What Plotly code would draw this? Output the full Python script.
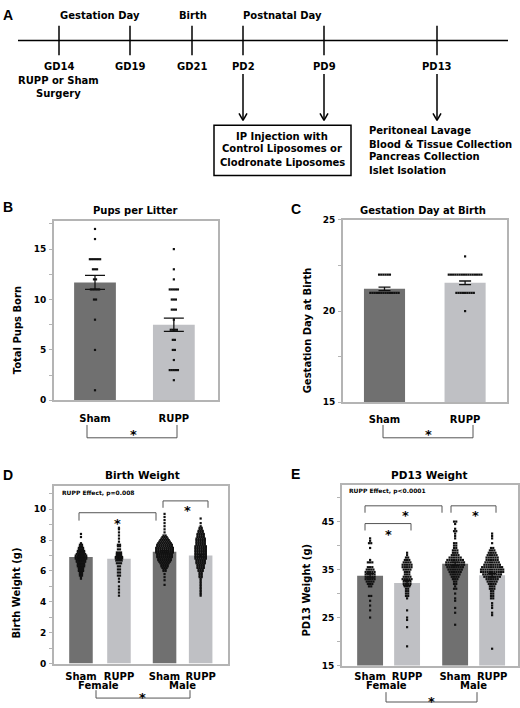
import plotly.graph_objects as go

W, H = 520, 708
FONT = "DejaVu Sans"
DARK = "#707070"
LIGHT = "#bfc0c4"
FRAME = "#b4b4b4"
BRK = "#555555"

# ---------------- data ----------------
# B: pups per litter
pups_labels = ["Sham", "RUPP"]
pups_mean = [11.7, 7.5]
pups_sem = [0.7, 0.65]
pups_sham_vals = [17, 16, 14, 13, 12, 11, 10, 8, 5, 1]
pups_sham_cnts = [1, 1, 6, 3, 2, 5, 2, 1, 1, 1]
pups_rupp_vals = [15, 13, 12, 11, 10, 9, 8, 7, 6, 5, 4, 3, 2]
pups_rupp_cnts = [1, 1, 1, 5, 3, 3, 1, 4, 2, 2, 1, 5, 1]

# C: gestation day at birth
gest_labels = ["Sham", "RUPP"]
gest_mean = [21.22, 21.55]
gest_sem = [0.1, 0.1]
gest_sham_vals = [22, 21]
gest_sham_cnts = [6, 14]
gest_rupp_vals = [23, 22, 21, 20]
gest_rupp_cnts = [1, 16, 9, 1]

# D / E groups
wt_labels = ["Sham", "RUPP", "Sham", "RUPP"]
sex_labels = ["Female", "Male"]

# D: birth weight (g)
bw_mean = [6.9, 6.8, 7.24, 7.0]
bw_sem = [0.1, 0.15, 0.07, 0.08]
bw_sham_f_vals = [8.4, 8.2, 7.8, 7.7, 7.6, 7.5, 7.4, 7.3, 7.2, 7.1, 7.0, 6.9, 6.8,
                  6.7, 6.6, 6.5, 6.4, 6.3, 6.2, 6.1, 6.0, 5.9, 5.8, 5.7, 5.6, 5.5]
bw_sham_f_cnts = [1, 1, 1, 2, 2, 3, 3, 4, 4, 5, 6, 6, 6, 5, 5, 4, 4, 4, 3, 3, 3, 2, 2, 2, 1, 1]
bw_rupp_f_vals = [8.8, 8.7, 8.5, 8.3, 8.1, 7.9, 7.7, 7.6, 7.4, 7.2, 7.1, 7.0, 6.9,
                  6.8, 6.7, 6.5, 6.3, 6.1, 5.9, 5.7, 5.5, 5.3, 5.0, 4.8, 4.6, 4.4]
bw_rupp_f_cnts = [1, 1, 1, 1, 1, 1, 2, 2, 2, 3, 3, 3, 4, 4, 3, 3, 2, 2, 2, 2, 1, 1, 1, 1, 1, 1]
bw_sham_m_vals = [9.7, 9.5, 9.3, 9.1, 8.9, 8.7, 8.5, 8.3, 8.2, 8.1, 8.0, 7.9, 7.8, 7.7,
                  7.6, 7.5, 7.4, 7.3, 7.2, 7.1, 7.0, 6.9, 6.8, 6.7, 6.6, 6.5, 6.4, 6.3,
                  6.2, 6.1, 6.0, 5.8, 5.6, 5.4, 5.1]
bw_sham_m_cnts = [1, 1, 1, 1, 1, 1, 1, 2, 3, 4, 5, 6, 7, 8, 8, 9, 9, 9, 9, 8, 8, 8, 7, 7,
                  6, 5, 4, 4, 3, 2, 2, 1, 1, 1, 1]
bw_rupp_m_vals = [9.4, 9.1, 8.9, 8.8, 8.7, 8.6, 8.5, 8.4, 8.3, 8.2, 8.1, 8.0, 7.9, 7.8,
                  7.7, 7.6, 7.5, 7.4, 7.3, 7.2, 7.1, 7.0, 6.9, 6.8, 6.7, 6.6, 6.5, 6.4,
                  6.3, 6.2, 6.1, 6.0, 5.9, 5.8, 5.7, 5.6, 5.5, 5.4, 5.3, 5.2, 5.1, 5.0,
                  4.9, 4.8, 4.7, 4.6, 4.5, 4.4]
bw_rupp_m_cnts = [1, 1, 1, 2, 2, 3, 3, 4, 4, 4, 5, 5, 5, 5, 5, 6, 6, 6, 6, 6, 6, 6, 6, 6,
                  5, 5, 5, 4, 4, 4, 3, 3, 2, 2, 2, 2, 1, 1, 1, 1, 1, 1, 1, 1, 1, 1, 1, 1]

# E: PD13 weight (g)
pw_mean = [33.7, 32.2, 36.2, 33.8]
pw_sem = [0.45, 0.55, 0.35, 0.35]
pw_sham_f_vals = [41.5, 41.0, 40.5, 39.5, 37.0, 36.5, 35.5, 35.0, 34.5, 34.0, 33.5, 33.0,
                  32.5, 32.0, 31.5, 29.5, 28.5, 27.5, 26.5, 25.0]
pw_sham_f_cnts = [1, 1, 2, 1, 1, 3, 3, 4, 5, 5, 5, 5, 4, 3, 2, 2, 1, 1, 1, 1]
pw_rupp_f_vals = [38.5, 38.0, 37.5, 37.0, 36.5, 36.0, 35.5, 35.0, 34.5, 34.0, 33.5, 33.0,
                  32.5, 32.0, 31.5, 31.0, 30.5, 30.0, 29.5, 29.0, 26.5, 25.0, 24.5, 23.0, 19.0]
pw_rupp_f_cnts = [1, 1, 2, 3, 4, 5, 5, 4, 3, 3, 4, 5, 4, 4, 3, 2, 2, 2, 2, 1, 1, 1, 1, 1, 1]
pw_sham_m_vals = [45.0, 44.5, 43.5, 43.0, 42.5, 42.0, 41.5, 40.5, 40.0, 39.5, 39.0, 38.5,
                  38.0, 37.5, 37.0, 36.5, 36.0, 35.5, 35.0, 34.5, 34.0, 33.5, 33.0, 32.5,
                  32.0, 31.5, 31.0, 30.0, 29.0, 28.5, 27.0, 26.0, 23.5]
pw_sham_m_cnts = [2, 1, 1, 2, 1, 1, 1, 2, 2, 2, 3, 3, 4, 6, 8, 9, 9, 8, 7, 6, 5, 4, 3, 2,
                  2, 1, 2, 1, 1, 1, 1, 1, 1]
pw_rupp_m_vals = [42.5, 42.0, 41.5, 40.5, 39.5, 39.0, 38.5, 38.0, 37.5, 37.0, 36.5, 36.0,
                  35.5, 35.0, 34.5, 34.0, 33.5, 33.0, 32.5, 32.0, 31.5, 31.0, 30.5, 30.0,
                  29.5, 29.0, 28.0, 27.5, 27.0, 26.0, 25.5, 18.5]
pw_rupp_m_cnts = [1, 1, 1, 1, 2, 3, 4, 5, 6, 6, 7, 8, 10, 11, 11, 9, 8, 6, 5, 4, 3, 3, 2, 2,
                  2, 2, 1, 1, 1, 1, 1, 1]

# A: timeline text
timeline_top = ["Gestation Day", "Birth", "Postnatal Day"]
timeline_days = ["GD14", "GD19", "GD21", "PD2", "PD9", "PD13"]
surgery_lines = ["RUPP or Sham", "Surgery"]
injection_lines = ["IP Injection with", "Control Liposomes or", "Clodronate Liposomes"]
collection_lines = ["Peritoneal Lavage", "Blood & Tissue Collection",
                    "Pancreas Collection", "Islet Isolation"]

# ---------------- layout helpers (pixel -> paper) ----------------
def P(x):
    return x / W


def Q(y):
    return 1 - y / H


def swarm(center, vals, cnts, dx):
    xs, ys = [], []
    for v, n in zip(vals, cnts):
        for i in range(n):
            xs.append(center + (i - (n - 1) / 2) * dx)
            ys.append(v)
    return xs, ys


fig = go.Figure()

# slot positions (layout of the bar categories on each axis)
pos2 = [0, 1]
posD = [0, 1, 2.2, 3.15]
posE = [0, 1, 2.3, 3.3]
cols2 = [DARK, LIGHT]
cols4 = [DARK, LIGHT, DARK, LIGHT]


def add_bars(xa, ya, pos, means, sems, width, capw, cols):
    fig.add_trace(go.Bar(x=pos, y=means, width=width, marker=dict(color=cols, line=dict(width=0)),
                         error_y=dict(type="data", array=sems, color="#111", thickness=1.3, width=capw),
                         xaxis=xa, yaxis=ya, hoverinfo="skip"))


def add_dots(xa, ya, xs, ys, size=2.2):
    fig.add_trace(go.Scatter(x=xs, y=ys, mode="markers", xaxis=xa, yaxis=ya,
                             marker=dict(symbol="square", size=size, color="#111", line=dict(width=0)),
                             hoverinfo="skip", cliponaxis=False))


# B
add_bars("x", "y", pos2, pups_mean, pups_sem, 0.53, 10, cols2)
for c, v, n in [(pos2[0], pups_sham_vals, pups_sham_cnts), (pos2[1], pups_rupp_vals, pups_rupp_cnts)]:
    xs, ys = swarm(c, v, n, 0.026)
    add_dots("x", "y", xs, ys)
# C
add_bars("x2", "y2", pos2, gest_mean, gest_sem, 0.51, 6, cols2)
for c, v, n in [(pos2[0], gest_sham_vals, gest_sham_cnts), (pos2[1], gest_rupp_vals, gest_rupp_cnts)]:
    xs, ys = swarm(c, v, n, 0.027)
    add_dots("x2", "y2", xs, ys)
# D
add_bars("x3", "y3", posD, bw_mean, bw_sem, 0.62, 4, cols4)
for c, v, n in [(posD[0], bw_sham_f_vals, bw_sham_f_cnts), (posD[1], bw_rupp_f_vals, bw_rupp_f_cnts),
                (posD[2], bw_sham_m_vals, bw_sham_m_cnts), (posD[3], bw_rupp_m_vals, bw_rupp_m_cnts)]:
    xs, ys = swarm(c, v, n, 0.055)
    add_dots("x3", "y3", xs, ys)
# E
add_bars("x4", "y4", posE, pw_mean, pw_sem, 0.7, 4, cols4)
for c, v, n in [(posE[0], pw_sham_f_vals, pw_sham_f_cnts), (posE[1], pw_rupp_f_vals, pw_rupp_f_cnts),
                (posE[2], pw_sham_m_vals, pw_sham_m_cnts), (posE[3], pw_rupp_m_vals, pw_rupp_m_cnts)]:
    xs, ys = swarm(c, v, n, 0.06)
    add_dots("x4", "y4", xs, ys)


def xax(x0, x1, y_anchor, rng, vals, text, standoff):
    return dict(domain=[P(x0), P(x1)], range=rng, anchor=y_anchor, tickvals=vals, ticktext=text,
                showline=True, mirror=True, linecolor=FRAME, linewidth=2, ticks="",
                showgrid=False, zeroline=False, ticklabelstandoff=standoff,
                tickfont=dict(family=FONT, size=10, color="black", weight="bold"))


def yax(y0, y1, x_anchor, rng, tick0, dtick, mdtick):
    return dict(domain=[Q(y1), Q(y0)], range=rng, anchor=x_anchor, tick0=tick0, dtick=dtick,
                showline=True, mirror=True, linecolor=FRAME, linewidth=2,
                ticks="outside", ticklen=3, tickcolor=FRAME, tickwidth=1,
                minor=dict(tick0=tick0, dtick=mdtick, ticks="outside", ticklen=3, tickcolor=FRAME),
                showgrid=False, zeroline=False, ticklabelstandoff=1,
                tickfont=dict(family=FONT, size=9, color="black", weight="bold"))


fig.update_layout(
    width=W, height=H, margin=dict(l=0, r=0, t=0, b=0),
    paper_bgcolor="white", plot_bgcolor="white", showlegend=False, barmode="overlay",
    xaxis=xax(54, 218, "y", [-0.52, 1.56], pos2, pups_labels, 8),
    yaxis=yax(219, 401, "x", [0, 17.8], 0, 5, 2.5),
    xaxis2=xax(343, 507, "y2", [-0.515, 1.52], pos2, gest_labels, 7),
    yaxis2=yax(218, 403, "x2", [15, 25], 15, 5, 2.5),
    xaxis3=xax(54, 228, "y3", [-0.71, 3.87], posD, wt_labels, 2),
    yaxis3=yax(488, 668, "x3", [0, 11.5], 0, 2, 1),
    xaxis4=xax(342, 518, "y4", [-0.76, 4.0], posE, wt_labels, 0),
    yaxis4=yax(487, 670, "x4", [15, 52.6], 15, 10, 5),
)

shapes = []
ann = []


def line(x0, y0, x1, y1, color="black", w=1.5):
    shapes.append(dict(type="line", xref="paper", yref="paper", x0=P(x0), y0=Q(y0), x1=P(x1), y1=Q(y1),
                       line=dict(color=color, width=w)))


def text(x, y, s, size=10, xanchor="center", family=FONT, color="black", angle=0):
    ann.append(dict(xref="paper", yref="paper", x=P(x), y=Q(y), text=s, showarrow=False,
                    xanchor=xanchor, yanchor="middle", textangle=angle,
                    font=dict(family=family, size=size, color=color, weight="bold")))


# ---- Panel A timeline ----
line(18, 36, 508, 36)
tick_x = [59, 130, 192, 243, 324, 437]
for x in tick_x:
    line(x, 21, x, 51)
for s, x in zip(timeline_top, [100, 193, 282]):
    text(x, 11, s)
for s, x in zip(timeline_days, tick_x):
    text(x, 62, s)
for s, y in zip(surgery_lines, [77, 90]):
    text(58, y, s)
for x in [243, 324, 437]:
    line(x, 70, x, 117)
    line(x - 4, 110, x, 117)
    line(x + 4, 110, x, 117)
shapes.append(dict(type="rect", xref="paper", yref="paper", x0=P(214), x1=P(351), y0=Q(173), y1=Q(122),
                   line=dict(color="black", width=1.5)))
for s, y in zip(injection_lines, [133, 146, 160]):
    text(282, y, s)
for s, y in zip(collection_lines, [127, 141, 154, 168]):
    text(367, y, s, xanchor="left")

# panel letters
for s, x, y in [("A", 8, 10), ("B", 8, 205), ("C", 296, 207), ("D", 8, 477), ("E", 295, 476)]:
    text(x, y, s, size=14, family="Liberation Sans")

# panel titles
text(135, 208, "Pups per Litter")
text(423, 208, "Gestation Day at Birth")
text(142, 477, "Birth Weight", size=10.5)
text(429, 477, "PD13 Weight", size=10.5)

# y-axis titles
text(17, 330, "Total Pups Born", angle=-90)
text(307, 330, "Gestation Day at Birth", angle=-90)
text(17, 597, "Birth Weight (g)", angle=-90)
text(307, 594, "PD13 Weight (g)", angle=-90)

# sex labels
text(98, 690, sex_labels[0])
text(182, 690, sex_labels[1])
text(386, 690, sex_labels[0])
text(473, 690, sex_labels[1])

# effect notes
text(60, 495, "RUPP Effect, p=0.008", size=6, xanchor="left")
text(347, 493, "RUPP Effect, p<0.0001", size=6, xanchor="left")


# brackets and stars
def bracket(x0, x1, yb, yt, sx, sy):
    shapes.append(dict(type="path", xref="paper", yref="paper",
                       path=f"M {P(x0)} {Q(yt)} L {P(x0)} {Q(yb)} L {P(x1)} {Q(yb)} L {P(x1)} {Q(yt)}",
                       line=dict(color=BRK, width=1)))
    text(sx, sy + 4, "*", size=13)


bracket(87, 177, 439, 426, 133, 432)
bracket(383, 473, 439, 426, 428, 432)
bracket(79, 156, 515, 523, 117, 522)
bracket(163, 208, 503, 510, 187, 509)
bracket(96, 190, 703, 695, 142, 698)
bracket(365, 442, 508, 515, 405, 514)
bracket(451, 496, 508, 515, 475, 514)
bracket(365, 411, 526, 533, 388, 533)
bracket(386, 477, 707, 697, 431, 702)

fig.update_layout(shapes=shapes, annotations=ann)
fig.write_html("out.html", config={"displayModeBar": False, "staticPlot": True},
               post_script="document.body.style.margin='0';document.body.style.padding='0';"
                           "document.body.style.overflow='hidden';")
